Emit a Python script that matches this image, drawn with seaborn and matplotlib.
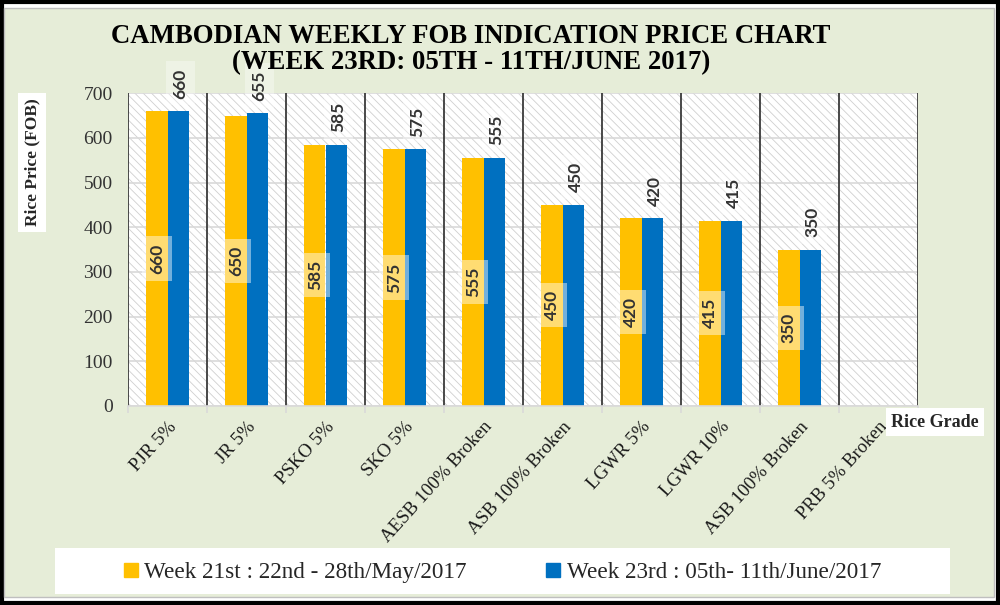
import pandas as pd
import numpy as np
import seaborn as sns
import matplotlib.pyplot as plt
from matplotlib.patches import Rectangle
from matplotlib.lines import Line2D

grades = ['PJR 5%', 'JR 5%', 'PSKO 5%', 'SKO 5%', 'AESB 100% Broken', 'ASB 100% Broken',
          'LGWR 5%', 'LGWR 10%', 'ASB 100% Broken ', 'PRB 5% Broken']
week21 = [660, 650, 585, 575, 555, 450, 420, 415, 350, np.nan]
week23 = [660, 655, 585, 575, 555, 450, 420, 415, 350, np.nan]
series = ['Week 21st : 22nd - 28th/May/2017', 'Week 23rd : 05th- 11th/June/2017']
colors = ['#FFC000', '#0070C0']

df = pd.DataFrame({
    'grade': grades * 2,
    'price': week21 + week23,
    'week': [series[0]] * len(grades) + [series[1]] * len(grades),
})

sns.set_style('white')
plt.rcParams['hatch.linewidth'] = 0.6
serif = 'Liberation Serif'
num_font = 'Lato'

fig = plt.figure(figsize=(10, 6.05), dpi=100)
fig.patch.set_facecolor('white')
# outer frame and pale green chart area (drawn beneath the axes)
fig.patches.append(Rectangle((0.002, 0.003), 0.996, 0.994, transform=fig.transFigure,
                             facecolor='none', edgecolor='black', lw=3, zorder=-2))
fig.patches.append(Rectangle((0.004, 0.013), 0.99, 0.973, transform=fig.transFigure,
                             facecolor='#E6EDD8', edgecolor='#BFBFBF', lw=1, zorder=-1))

ax = fig.add_axes([0.128, 0.329, 0.79, 0.517])
ax.set_facecolor('white')
ax.add_patch(Rectangle((0, 0), 1, 1, transform=ax.transAxes, facecolor='white',
                       edgecolor='#D0D0D0', hatch='\\\\\\\\', lw=0, zorder=0))

sns.barplot(data=df, x='grade', y='price', hue='week', order=grades, hue_order=series,
            palette=colors, width=0.54, ax=ax, legend=False, zorder=2, saturation=1,
            linewidth=0)

ax.set_ylim(0, 700)
ax.set_xlim(-0.5, len(grades) - 0.5)
ax.set_yticks(range(0, 701, 100))
ax.yaxis.grid(True, color='#D9D9D9', lw=1.2, zorder=1)
ax.set_axisbelow(True)
for i in range(len(grades) + 1):
    ax.axvline(i - 0.5, color='#3A3A3A', lw=1.3, zorder=1.5)
for s in ['top', 'right']:
    ax.spines[s].set_visible(False)
ax.spines['bottom'].set_color('#D9D9D9')
ax.spines['bottom'].set_linewidth(1.2)
ax.spines['left'].set_visible(False)

# value labels
for cont, kind in zip(ax.containers, ['inside', 'outside']):
    for bar, v in zip(cont, week21 if kind == 'inside' else week23):
        if np.isnan(v):
            continue
        xc = bar.get_x() + bar.get_width() / 2
        if kind == 'inside':
            ax.text(xc, v / 2, f'{v:.0f}', rotation=90, ha='center', va='center',
                    fontsize=12.5, fontweight='bold', color='#333333', family=num_font,
                    bbox=dict(facecolor='white', alpha=0.45, edgecolor='none', pad=5), zorder=5)
        else:
            ax.annotate(f'{v:.0f}', (xc + 0.03, v), xytext=(0, 9), textcoords='offset points',
                        rotation=90, ha='center', va='bottom', fontsize=12.5, fontweight='bold',
                        color='#333333', family=num_font, annotation_clip=False, zorder=5,
                        bbox=dict(facecolor='white', alpha=0.35, edgecolor='none', pad=5))

ax.set_xticks(range(len(grades)))
ax.set_xticklabels([g.strip() for g in grades], rotation=48, ha='right', rotation_mode='anchor',
                   family=serif, fontsize=13.5, color='#1a1a1a')
ax.set_xticks(np.arange(-0.5, len(grades)), minor=True)
ax.tick_params(axis='x', which='major', length=0, pad=9)
ax.tick_params(axis='x', which='minor', length=5, color='#D9D9D9', width=1.2, bottom=True)
ax.tick_params(axis='y', length=0, pad=11)
for lab in ax.get_yticklabels():
    lab.set_family(serif)
    lab.set_fontsize(14)
    lab.set_color('#333333')
ax.set_xlabel('')
ax.set_ylabel('')

fig.text(0.032, 0.732, 'Rice Price (FOB)', rotation=90, ha='center', va='center',
         family=serif, fontweight='bold', fontsize=12.5,
         bbox=dict(facecolor='white', edgecolor='none', pad=4))
fig.text(0.935, 0.302, 'Rice Grade', ha='center', va='center', family=serif,
         fontweight='bold', fontsize=13,
         bbox=dict(facecolor='white', edgecolor='none', pad=4))

fig.text(0.471, 0.918, 'CAMBODIAN WEEKLY FOB INDICATION PRICE CHART\n(WEEK 23RD: 05TH - 11TH/JUNE 2017)',
         ha='center', va='center', family=serif, fontweight='bold', fontsize=19.3,
         linespacing=1.08, color='black')

# legend box
fig.patches.append(Rectangle((0.055, 0.018), 0.895, 0.076, transform=fig.transFigure,
                             facecolor='white', edgecolor='none', zorder=-0.5))
handles = [Line2D([], [], marker='s', ls='none', markersize=10, color=c) for c in colors]
fig.legend(handles, series, loc='center', bbox_to_anchor=(0.5, 0.0545), ncol=2, frameon=False,
           prop={'family': serif, 'size': 16.7}, handletextpad=0.1, columnspacing=3.2,
           handlelength=1)

fig.savefig('out.png', dpi=100)
